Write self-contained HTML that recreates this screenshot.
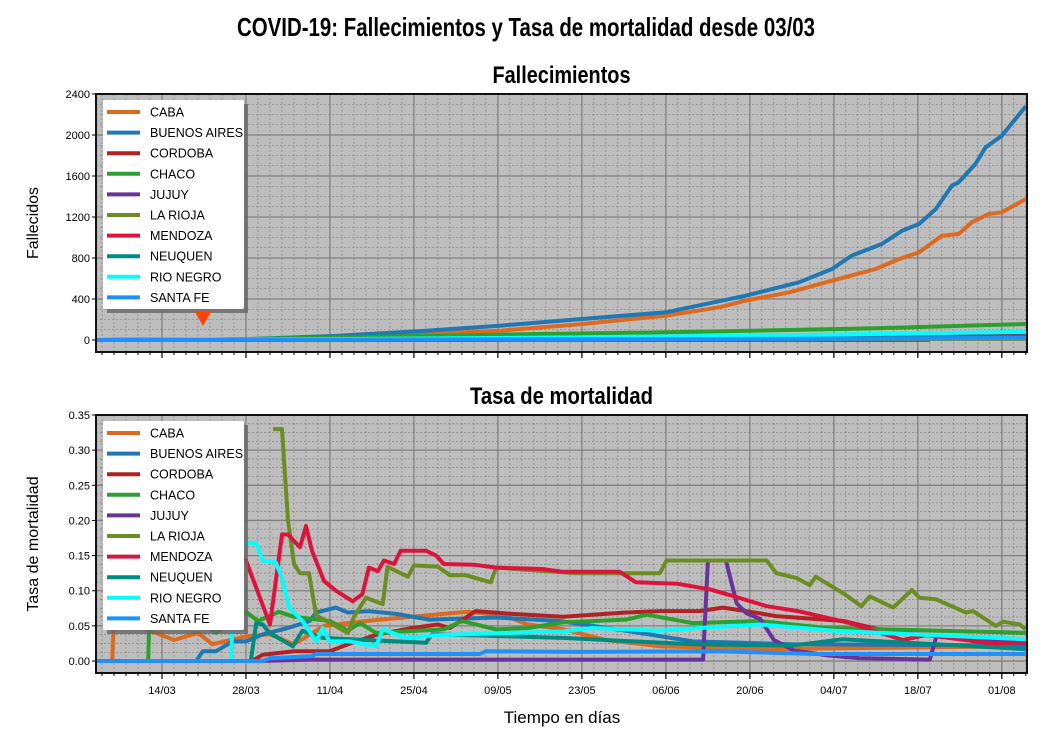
<!DOCTYPE html>
<html><head><meta charset="utf-8">
<style>
body{margin:0;background:#fff;width:1050px;height:750px;overflow:hidden;font-family:"Liberation Sans",sans-serif}
svg text{font-family:"Liberation Sans",sans-serif}
.ttl{font-family:"Liberation Sans Narrow","Liberation Sans",sans-serif;font-weight:bold}
</style></head><body>
<svg id="chart" width="1050" height="750" xmlns="http://www.w3.org/2000/svg"></svg>
<script>
const names=["CABA","BUENOS AIRES","CORDOBA","CHACO","JUJUY","LA RIOJA","MENDOZA","NEUQUEN","RIO NEGRO","SANTA FE"];
const colors=["#dd6a1f","#1f77b4","#b22222","#2ca02c","#6a339a","#6b8e23","#dc143c","#008b80","#00ffff","#1e90ff"];
const dateLabels=["14/03","28/03","11/04","25/04","09/05","23/05","06/06","20/06","04/07","18/07","01/08"];
const dateDays=[11,25,39,53,67,81,95,109,123,137,151];
const deathTicks=[0,400,800,1200,1600,2000,2400];
const rateTicks=[0,0.05,0.1,0.15,0.2,0.25,0.3,0.35];
// deaths: [day,value] keyframes
const dCABA=[[0,0],[15,2],[25,8],[40,30],[55,60],[67.3,91],[80,150],[95,237],[103.9,319],[108.3,384],[115.6,465],[122.7,579],[130,693],[133.9,790],[137.2,855],[141,1018],[143.8,1034],[146,1148],[148.8,1229],[151,1246],[155,1376]];
const dBA=[[0,0],[15,2],[25,8],[40,40],[55,90],[67.3,140],[80,200],[95,270],[108.3,432],[117.2,563],[122.7,693],[126,823],[131,937],[134.4,1066],[137.2,1132],[140,1278],[142.7,1506],[143.8,1538],[146.6,1717],[148.3,1880],[151,1993],[155,2280]];
const dCORD=[[0,0],[40,10],[100,25],[155,35]];
const dCHACO=[[0,0],[20,5],[40,25],[67,52],[100,80],[130,115],[155,156]];
const dJUJ=[[0,0],[100,1],[139,2]];
const dRIO=[[0,0],[40,3],[100,8],[155,12]];
const dMEN=[[0,0],[60,8],[120,25],[155,40]];
const dNEU=[[0,0],[60,5],[120,20],[155,35]];
const dRN=[[0,0],[40,10],[80,25],[120,50],[155,80]];
const dSF=[[0,0],[60,5],[120,12],[155,20]];
const deaths=[dCABA,dBA,dCORD,dCHACO,dJUJ,dRIO,dMEN,dNEU,dRN,dSF];
// mortality rates
const rCABA=[[0,0],[2.7,0],[3,0.06],[10,0.04],[13,0.03],[17,0.04],[19.4,0.024],[25,0.035],[29,0.038],[33,0.024],[38,0.05],[45,0.057],[55,0.065],[62,0.07],[68,0.065],[72,0.052],[78,0.045],[85,0.03],[94,0.021],[110.7,0.017],[155,0.021]];
const rBA=[[0,0],[16.7,0],[17.8,0.014],[20,0.014],[21,0.019],[22.8,0.028],[25,0.028],[27.8,0.038],[32,0.047],[35.6,0.057],[36.7,0.069],[40,0.076],[42,0.069],[45.5,0.071],[50,0.067],[55.6,0.059],[66.7,0.062],[77.3,0.057],[88.4,0.043],[99.5,0.028],[116,0.024],[155,0.022]];
const rCORD=[[0,0],[26,0],[27.8,0.009],[33,0.014],[39,0.014],[42,0.024],[47,0.038],[52.8,0.047],[57,0.052],[59,0.047],[63.3,0.071],[69.4,0.067],[77.8,0.063],[88.4,0.069],[94,0.071],[100.6,0.071],[104.5,0.076],[108.4,0.071],[113.4,0.064],[124.6,0.057],[133,0.04],[155,0.027]];
const rCHACO=[[8.7,0],[9,0.1],[15,0.07],[20,0.04],[25,0.07],[27,0.057],[30.5,0.07],[33,0.063],[39,0.057],[42,0.043],[44,0.054],[46.7,0.04],[58,0.045],[61,0.057],[66.7,0.045],[72,0.047],[77.8,0.055],[88.4,0.059],[91.8,0.066],[99.5,0.054],[110.7,0.057],[121.8,0.047],[155,0.04]];
const rJUJ=[[27,0],[36,0.002],[101.2,0.002],[102,0.143],[105,0.143],[106.8,0.082],[108.4,0.068],[110.7,0.06],[113,0.03],[116.3,0.015],[122,0.008],[127.3,0.004],[139,0.002],[140.1,0.035],[155,0.025]];
const rRIO=[[29.5,0.33],[31,0.33],[32,0.2],[33,0.138],[34,0.125],[35.5,0.125],[36.7,0.065],[42,0.04],[43,0.063],[45,0.09],[47.8,0.081],[48.6,0.134],[52,0.12],[53,0.136],[57,0.134],[59,0.122],[61.7,0.122],[65.8,0.112],[66.7,0.133],[80,0.125],[94,0.125],[95.1,0.143],[111.8,0.143],[113.4,0.125],[116.8,0.118],[119,0.108],[120,0.12],[125,0.094],[127.6,0.078],[129,0.092],[132.9,0.076],[136,0.101],[137.3,0.09],[140,0.088],[145,0.069],[146.2,0.071],[150,0.05],[151.2,0.056],[154,0.052],[155,0.045]];
const rMEN=[[20,0.17],[25,0.143],[29,0.052],[31,0.18],[32,0.18],[34,0.162],[35,0.192],[36,0.157],[38,0.114],[40,0.1],[42.8,0.085],[44.4,0.095],[45.5,0.133],[47,0.128],[48,0.143],[49.7,0.138],[50.8,0.157],[55,0.157],[56.7,0.15],[58,0.138],[63,0.137],[66.7,0.133],[74.4,0.131],[77.8,0.127],[87.3,0.127],[90,0.112],[96.8,0.11],[102.3,0.102],[106,0.093],[111.8,0.078],[117,0.071],[125.7,0.054],[134.5,0.03],[138.4,0.037],[149.5,0.025],[155,0.027]];
const rNEU=[[25.8,0],[26.7,0.054],[27.8,0.052],[28.9,0.04],[32.8,0.021],[34.4,0.043],[37.8,0.033],[50,0.028],[55,0.026],[56,0.038],[77.8,0.033],[99.5,0.024],[116,0.022],[124.4,0.031],[155,0.017]];
const rRN=[[5.5,0],[22.6,0],[22.8,0.168],[26.7,0.168],[27.8,0.143],[30,0.14],[31,0.118],[32.2,0.076],[34.4,0.057],[36.7,0.028],[37.8,0.047],[38.9,0.028],[42.2,0.028],[46.7,0.021],[47.8,0.045],[51.7,0.033],[55.6,0.036],[61,0.038],[77.8,0.042],[82.8,0.047],[94,0.043],[100.6,0.047],[110.7,0.052],[123,0.043],[155,0.031]];
const rSF=[[0,0],[27.8,0],[29,0.004],[36,0.007],[36.7,0.01],[64,0.01],[65,0.014],[80,0.013],[103,0.014],[120,0.01],[155,0.01]];
const rates=[rCABA,rBA,rCORD,rCHACO,rJUJ,rRIO,rMEN,rNEU,rRN,rSF];

const NS="http://www.w3.org/2000/svg";
const svg=document.getElementById("chart");
function mk(tag,attrs,parent){const e=document.createElementNS(NS,tag);for(const k in attrs)e.setAttribute(k,attrs[k]);(parent||svg).appendChild(e);return e;}
const X0=96,X1=1027,DAYMAX=155.2;
const xs=d=>X0+(X1-X0)*d/DAYMAX;
function panel(top,bottom,vmin,vmax,yticks,fmt,minorStep,series,title,titleLen,ylabel,legendTop,isBottom,pname){
  const ys=v=>bottom-(v-vmin)/(vmax-vmin)*(bottom-top);
  const g=mk("g",{});
  
  
  mk("rect",{x:X0,y:top,width:X1-X0,height:bottom-top,fill:"#bebebe"},g);
  for(let d=1;d<DAYMAX;d+=2){const x=xs(d);mk("line",{x1:x,x2:x,y1:top,y2:bottom,stroke:"#7a7a7a","stroke-width":0.6,"stroke-dasharray":"2,2"},g);}
  for(let v=0;v<=vmax+1e-9;v+=minorStep){const y=ys(v);mk("line",{x1:X0,x2:X1,y1:y,y2:y,stroke:"#7a7a7a","stroke-width":0.6,"stroke-dasharray":"2,2"},g);}
  dateDays.forEach(d=>{const x=xs(d);mk("line",{x1:x,x2:x,y1:top,y2:bottom,stroke:"#808080","stroke-width":1.3},g);});
  yticks.forEach(v=>{const y=ys(v);mk("line",{x1:X0,x2:X1,y1:y,y2:y,stroke:"#808080","stroke-width":1.3},g);
    const t=mk("text",{x:X0-6,y:y+4,"text-anchor":"end","font-size":11},g);t.textContent=fmt(v);
    
    
    mk("line",{x1:X0-4,x2:X0,y1:y,y2:y,stroke:"#000"},g);});
  for(let d=1;d<DAYMAX;d+=2){const x=xs(d);mk("line",{x1:x,x2:x,y1:bottom,y2:bottom+3,stroke:"#000","stroke-width":1},g);}
  dateDays.forEach((d,i)=>{const x=xs(d);mk("line",{x1:x,x2:x,y1:bottom,y2:bottom+6,stroke:"#000","stroke-width":1.2},g);
    if(isBottom){const t=mk("text",{x:x,y:bottom+21,"text-anchor":"middle","font-size":11},g);t.textContent=dateLabels[i];
      
      }});
  const clip=mk("clipPath",{id:"c"+pname},g);mk("rect",{x:X0,y:top,width:X1-X0,height:bottom-top},clip);
  series.forEach((s,i)=>{const p=mk("polyline",{points:s.map(q=>xs(q[0]).toFixed(1)+","+ys(q[1]).toFixed(1)).join(" "),fill:"none",stroke:colors[i],"stroke-width":4,"stroke-linejoin":"round","clip-path":"url(#c"+pname+")"},g);
    
    });
  mk("rect",{x:X0,y:top,width:X1-X0,height:bottom-top,fill:"none",stroke:"#111","stroke-width":2},g);
  const tt=mk("text",{x:(X0+X1)/2,y:top-11,"text-anchor":"middle","font-size":24,class:"ttl",textLength:titleLen,lengthAdjust:"spacingAndGlyphs"},g);tt.textContent=title;
  
  
  const yl=mk("text",{x:0,y:0,"text-anchor":"middle","font-size":16,transform:`translate(38,${(top+bottom)/2}) rotate(-90)`},g);yl.textContent=ylabel;
  
  
  const lg=mk("g",{},g);
  
  
  mk("rect",{x:107,y:legendTop+4,width:141,height:209,fill:"#666",opacity:0.8},lg);
  mk("rect",{x:103,y:legendTop,width:141,height:209,fill:"#fff",rx:2},lg);
  names.forEach((n,i)=>{const y=legendTop+12+i*20.6;
    mk("line",{x1:107,x2:140,y1:y,y2:y,stroke:colors[i],"stroke-width":4},lg);
    const t=mk("text",{x:150,y:y+4.5,"font-size":12.5},lg);t.textContent=n;
    
    });
  return ys;
}
const mt=mk("text",{x:526,y:36,"text-anchor":"middle","font-size":26,class:"ttl",textLength:578,lengthAdjust:"spacingAndGlyphs"});mt.textContent="COVID-19: Fallecimientos y Tasa de mortalidad desde 03/03";


panel(94,352,-117,2400,deathTicks,v=>String(v),100,deaths,"Fallecimientos",138,"Fallecidos",100,false,"deaths-panel");
panel(415,673,-0.017,0.35,rateTicks,v=>v.toFixed(2),0.0125,rates,"Tasa de mortalidad",183,"Tasa de mortalidad",421,true,"rate-panel");
const tri=mk("polygon",{points:"195,312 211,312 203,326",fill:"#ff4500"});


const xl=mk("text",{x:562,y:723,"text-anchor":"middle","font-size":17});xl.textContent="Tiempo en días";


</script>
</body></html>
